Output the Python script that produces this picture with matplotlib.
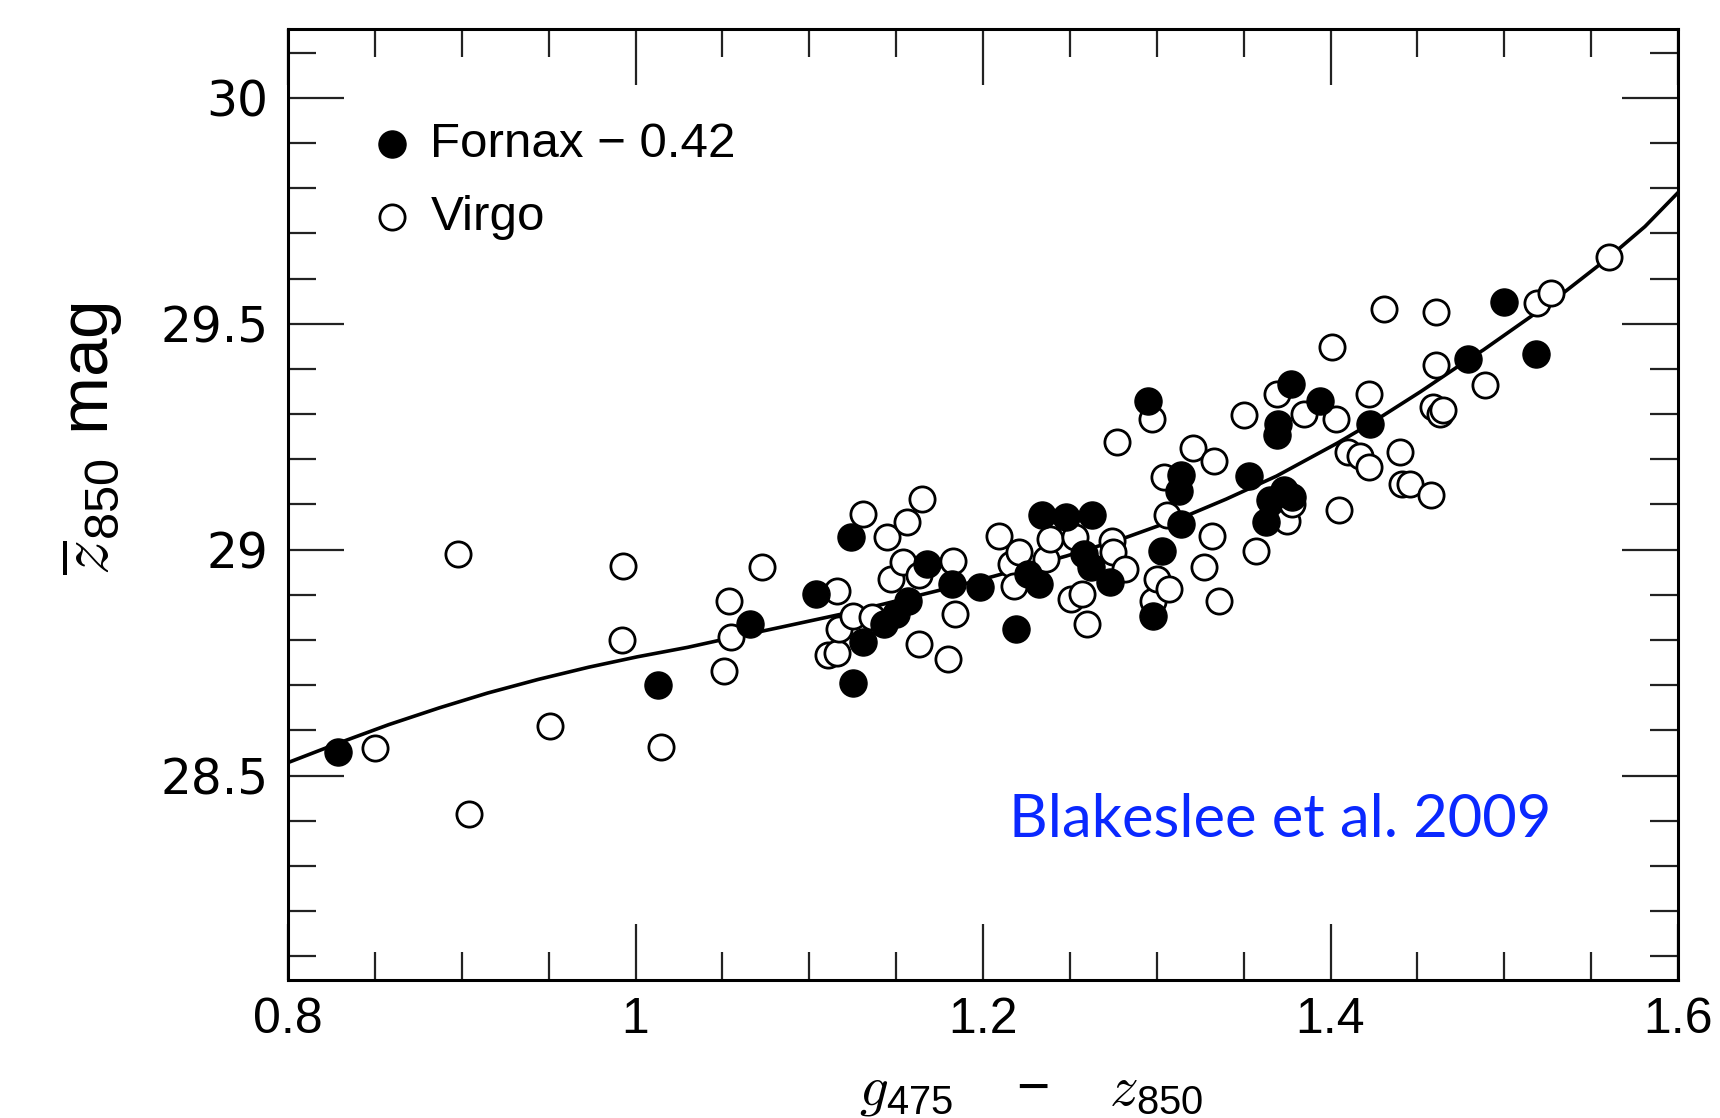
import numpy as np
import matplotlib
matplotlib.use("Agg")
import matplotlib.pyplot as plt
from matplotlib.ticker import MultipleLocator

plt.rcParams["font.family"] = ["Liberation Sans", "DejaVu Sans"]
plt.rcParams["mathtext.fontset"] = "custom"
plt.rcParams["mathtext.it"] = "cmmi10"
plt.rcParams["mathtext.rm"] = "Liberation Sans"

# Fornax galaxies (shifted by -0.42): g-z colour, mean z mag
fornax_gz = [0.829, 1.013, 1.066, 1.104, 1.124, 1.125, 1.131, 1.143, 1.150, 1.157,
             1.168, 1.182, 1.198, 1.219, 1.226, 1.232, 1.234, 1.248, 1.263, 1.258,
             1.262, 1.273, 1.295, 1.298, 1.303, 1.314, 1.314, 1.313, 1.353, 1.363,
             1.365, 1.369, 1.370, 1.373, 1.377, 1.378, 1.394, 1.423, 1.479, 1.500,
             1.518]
fornax_z = [28.552, 28.701, 28.836, 28.902, 29.029, 28.706, 28.795, 28.836, 28.858, 28.887,
            28.969, 28.924, 28.917, 28.825, 28.946, 28.924, 29.076, 29.072, 29.076, 28.991,
            28.961, 28.928, 29.330, 28.854, 28.998, 29.057, 29.165, 29.130, 29.162, 29.061,
            29.109, 29.253, 29.277, 29.131, 29.367, 29.116, 29.330, 29.279, 29.423, 29.548,
            29.434]

# Virgo galaxies
virgo_gz = [0.850, 0.898, 0.904, 0.951, 0.993, 0.992, 1.0145, 1.051, 1.054, 1.055,
            1.0726, 1.111, 1.116, 1.116, 1.117, 1.125, 1.131, 1.136, 1.145, 1.147,
            1.154, 1.156, 1.163, 1.163, 1.165, 1.180, 1.183, 1.184, 1.209, 1.216,
            1.221, 1.2176, 1.236, 1.2386, 1.253, 1.2506, 1.257, 1.260, 1.274, 1.275,
            1.277, 1.282, 1.297, 1.298, 1.300, 1.304, 1.306, 1.307, 1.321, 1.327,
            1.332, 1.333, 1.336, 1.350, 1.357, 1.369, 1.375, 1.378, 1.385, 1.401,
            1.403, 1.405, 1.410, 1.417, 1.422, 1.422, 1.431, 1.440, 1.441, 1.446,
            1.458, 1.459, 1.461, 1.461, 1.463, 1.465, 1.489, 1.519, 1.527, 1.560]
virgo_z = [28.562, 28.991, 28.416, 28.610, 28.963, 28.800, 28.564, 28.732, 28.887, 28.806,
           28.961, 28.766, 28.771, 28.909, 28.825, 28.854, 29.078, 28.850, 29.027, 28.935,
           28.972, 29.061, 28.943, 28.791, 29.113, 28.758, 28.976, 28.858, 29.031, 28.968,
           28.994, 28.920, 28.980, 29.024, 29.027, 28.892, 28.902, 28.836, 29.020, 28.994,
           29.238, 28.957, 29.290, 28.887, 28.935, 29.160, 29.076, 28.913, 29.224, 28.961,
           29.031, 29.197, 28.887, 29.297, 28.998, 29.345, 29.064, 29.100, 29.301, 29.448,
           29.290, 29.087, 29.216, 29.208, 29.345, 29.183, 29.533, 29.216, 29.146, 29.146,
           29.120, 29.315, 29.526, 29.408, 29.301, 29.310, 29.364, 29.545, 29.567, 29.648]

# fitted calibration curve
curve_gz = [0.800, 0.829, 0.858, 0.887, 0.915, 0.944, 0.973, 1.001, 1.030, 1.056,
            1.083, 1.118, 1.141, 1.181, 1.206, 1.248, 1.283, 1.319, 1.340, 1.369,
            1.404, 1.423, 1.452, 1.479, 1.488, 1.515, 1.535, 1.560, 1.581, 1.600]
curve_z = [28.529, 28.572, 28.613, 28.650, 28.683, 28.713, 28.740, 28.763, 28.784, 28.806,
           28.828, 28.857, 28.878, 28.916, 28.941, 28.986, 29.028, 29.078, 29.112, 29.163,
           29.236, 29.279, 29.350, 29.420, 29.442, 29.515, 29.571, 29.646, 29.715, 29.790]

x_ticks = [0.8, 1.0, 1.2, 1.4, 1.6]
x_ticklabels = ["0.8", "1", "1.2", "1.4", "1.6"]
y_ticks = [28.5, 29.0, 29.5, 30.0]
y_ticklabels = ["28.5", "29", "29.5", "30"]

fig = plt.figure(figsize=(17.2, 11.18), dpi=100)
ax = fig.add_axes([288 / 1720, 1 - 980 / 1118, 1390 / 1720, 951 / 1118])

ax.plot(curve_gz, curve_z, color="black", lw=2.6, zorder=1)
ax.scatter(virgo_gz, virgo_z, s=330, facecolors="white", edgecolors="black",
           linewidths=2.0, zorder=2, label="Virgo")
ax.scatter(fornax_gz, fornax_z, s=380, color="black", zorder=3,
           label="Fornax \u2212 0.42")

ax.set_xlim(0.8, 1.6)
ax.set_ylim(28.048, 30.152)
ax.set_xticks(x_ticks)
ax.set_xticklabels(x_ticklabels, fontsize=36)
ax.set_yticks(y_ticks)
ax.set_yticklabels(y_ticklabels, fontsize=35, family="DejaVu Sans")
ax.xaxis.set_minor_locator(MultipleLocator(0.05))
ax.yaxis.set_minor_locator(MultipleLocator(0.1))
ax.tick_params(which="both", direction="in", top=True, right=True, width=1.6,
               color="#222222")
ax.tick_params(which="major", length=40)
ax.tick_params(which="minor", length=20)
ax.tick_params(axis="y", pad=14)
ax.tick_params(axis="x", pad=12)
for sp in ax.spines.values():
    sp.set_linewidth(2.2)

ax.set_xlabel(r"$g_{475}\quad-\quad z_{850}$", fontsize=41)
ax.xaxis.set_label_coords(0.5345, -0.088)
ax.set_ylabel(r"$\overline{z}_{850}$ mag", fontsize=50)
ax.yaxis.set_label_coords(-0.117, 0.569)

handles, labels = ax.get_legend_handles_labels()
ax.legend(handles[::-1], labels[::-1], loc="upper left",
          bbox_to_anchor=(0.057, 0.902), frameon=False, fontsize=35.5,
          handlelength=1.0, handletextpad=0.28, labelspacing=0.57,
          borderaxespad=0, borderpad=0)

ax.text(0.519, 0.168, "Blakeslee et al. 2009", transform=ax.transAxes,
        family="Lato", fontsize=43, color="#0a28ff", ha="left", va="center")

fig.savefig("out.png", dpi=100)
